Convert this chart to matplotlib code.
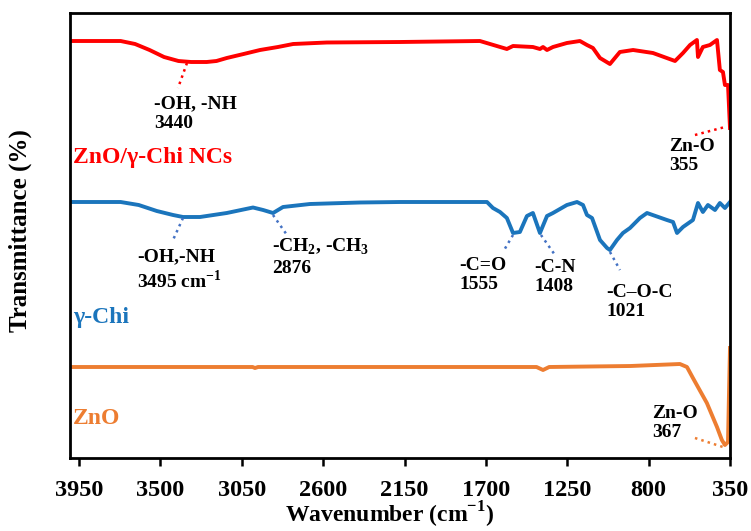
import numpy as np
import matplotlib
matplotlib.use('Agg')
import matplotlib.pyplot as plt

plt.rcParams['font.family'] = ['Liberation Serif', 'DejaVu Serif']
plt.rcParams['font.weight'] = 'bold'
plt.rcParams['mathtext.fontset'] = 'custom'
plt.rcParams['mathtext.rm'] = 'Liberation Serif:bold'

# spectra, wavenumber (cm-1) vs offset transmittance (arbitrary units)
wn_nc = [3990, 3720, 3640, 3560, 3480, 3400, 3330, 3244, 3190, 3133, 3040, 2949, 2850, 2766,
         2580, 2175, 1733, 1677, 1584, 1550, 1440, 1401, 1384, 1362, 1329, 1252, 1180,
         1141, 1108, 1069, 1014, 959, 886, 776, 654, 610, 571, 533, 527, 500, 461, 422,
         406, 389, 378, 361, 350]
t_nc = [417, 417, 414, 408, 401, 397, 396, 396, 397, 400, 404, 408, 411, 414,
        415.5, 416, 417, 414, 409, 412, 411, 409, 411, 408, 411, 415, 417,
        413, 410, 400, 394, 406, 408, 405, 397, 405, 413, 418, 401, 411, 413, 418,
        388, 386, 373, 373, 330]

wn_chi = [3990, 3720, 3620, 3520, 3430, 3375, 3281, 3133, 2988, 2932, 2877, 2822, 2673,
          2396, 2175, 1694, 1661, 1622, 1584, 1550, 1512, 1473, 1440, 1401, 1362, 1329,
          1252, 1196, 1163, 1141, 1113, 1069, 1030, 1014, 975, 942, 903, 848, 809, 699,
          665, 643, 610, 555, 527, 500, 472, 433, 406, 378, 350]
t_chi = [256, 256, 253, 247, 243, 241, 241, 245, 250.5, 248, 245, 251, 254,
         255.5, 256, 256, 250, 246, 240, 225, 226, 242, 245, 225, 242, 245,
         253, 256, 253, 243, 240, 218, 210, 208, 218, 225, 230, 240, 245, 238,
         236, 225, 231, 238, 255, 246, 253, 248, 255, 250, 256]

wn_zno = [3990, 3500, 2990, 2977, 2960, 2500, 2000, 1420, 1384, 1350, 900, 627, 588,
          555, 478, 422, 395, 378, 361, 356, 350]
t_zno = [91, 91, 91, 90, 91, 91, 91, 91, 88, 91, 92, 94, 91,
         80, 55, 31, 18, 13, 16, 61, 110]

red = '#FF0000'
blue = '#1B75BC'
orange = '#ED7D31'

fig = plt.figure(figsize=(7.51, 5.31), dpi=100)
ax = fig.add_axes([70 / 751, 73 / 531, 660 / 751, 445 / 531])

ax.plot(wn_nc, t_nc, color=red, lw=2.8)
ax.plot(wn_chi, t_chi, color=blue, lw=2.8)
ax.plot(wn_zno, t_zno, color=orange, lw=2.8)

ax.set_xlim(4000, 350)
ax.set_ylim(0, 445)
ax.set_xticks([3950, 3500, 3050, 2600, 2150, 1700, 1250, 800, 350])
ax.set_yticks([])
ax.tick_params(axis='x', direction='out', length=6, width=1.8, labelsize=17.5, pad=10)
for s in ax.spines.values():
    s.set_linewidth(2)
for lb in ax.get_xticklabels():
    lb.set_fontweight('bold')

ax.set_xlabel('Wavenumber (cm$^{-1}$)', fontsize=17, fontweight='bold')
ax.set_ylabel('Transmittance (%)', fontsize=18, fontweight='bold')
ax.xaxis.set_label_coords(0.485, -0.093)
ax.yaxis.set_label_coords(-0.057, 0.512)

# sample labels
ax.text(3985, 301, 'ZnO/γ-Chi NCs', color=red, fontsize=17, fontweight='bold', va='center')
ax.text(3985, 141, 'γ-Chi', color=blue, fontsize=17, fontweight='bold', va='center')
ax.text(3985, 40, 'ZnO', color=orange, fontsize=17, fontweight='bold', va='center')

def px2wn(px):
    return 4000 - (px - 70) / 0.18083

def note(lines_xy, text, x, y, color):
    (x0, y0), (x1, y1) = lines_xy
    ax.plot([px2wn(x0), px2wn(x1)], [458 - y0, 458 - y1], ls=':', color=color, lw=1.8)
    ax.text(px2wn(x), 458 - y, text, fontsize=14, fontweight='bold', va='center',
            ha='left', linespacing=1.2)

note(((187, 63), (178, 88)), '-OH, -NH\n3440', 154, 114, red)
note(((695, 135), (725, 127)), 'Zn-O\n355', 669, 156, red)
note(((183, 218), (173, 240)), '-OH,-NH\n3495 cm$^{-1}$', 137, 270, '#4472C4')
note(((273, 215), (287, 235)), '-CH$_2$, -CH$_3$\n2876', 272, 257, '#4472C4')
note(((513, 235), (503, 252)), '-C=O\n1555', 459, 275, '#4472C4')
note(((541, 235), (555, 255)), '-C-N\n1408', 534, 277, '#4472C4')
note(((610, 252), (620, 270)), '-C–O-C\n1021', 606, 302, '#4472C4')
note(((695, 438), (723, 447)), 'Zn-O\n367', 652, 423, orange)

fig.savefig('out.png', dpi=100)
